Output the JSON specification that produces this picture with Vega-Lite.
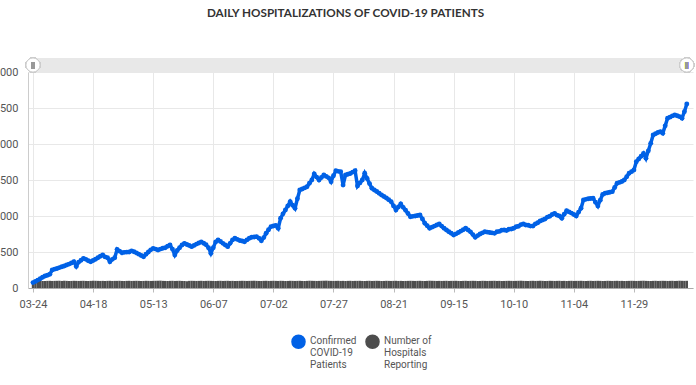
{
  "$schema": "https://vega.github.io/schema/vega-lite/v6.json",
  "width": 665,
  "height": 216,
  "autosize": {"type": "none"},
  "padding": {"left": 28, "top": 72, "right": 3, "bottom": 97},
  "background": "white",
  "title": {"text": "DAILY HOSPITALIZATIONS OF COVID-19 PATIENTS", "font": "Lato", "fontSize": 11.7, "fontWeight": "bold", "color": "#333333", "anchor": "middle", "offset": 36, "dx": -15},
  "config": {"view": {"stroke": null}, "axis": {"labelFont": "Roboto", "labelFontSize": 11, "labelColor": "#555555", "gridColor": "#e8e8e8", "title": null}},
  "resolve": {"axis": {"x": "independent", "y": "independent"}},
  "data": {"values": [
{"date":"2020/03/24","patients":75,"hospitals":99},{"date":"2020/03/25","patients":92,"hospitals":98},{"date":"2020/03/26","patients":110,"hospitals":100},{"date":"2020/03/27","patients":128,"hospitals":99},{"date":"2020/03/28","patients":150,"hospitals":97},{"date":"2020/03/29","patients":167,"hospitals":98},{"date":"2020/03/30","patients":178,"hospitals":99},{"date":"2020/03/31","patients":190,"hospitals":100},
{"date":"2020/04/01","patients":250,"hospitals":98},{"date":"2020/04/02","patients":262,"hospitals":99},{"date":"2020/04/03","patients":270,"hospitals":100},{"date":"2020/04/04","patients":283,"hospitals":99},{"date":"2020/04/05","patients":296,"hospitals":98},{"date":"2020/04/06","patients":305,"hospitals":101},{"date":"2020/04/07","patients":320,"hospitals":99},{"date":"2020/04/08","patients":332,"hospitals":97},{"date":"2020/04/09","patients":348,"hospitals":98},{"date":"2020/04/10","patients":365,"hospitals":100},{"date":"2020/04/11","patients":300,"hospitals":99},{"date":"2020/04/12","patients":360,"hospitals":98},{"date":"2020/04/13","patients":385,"hospitals":99},{"date":"2020/04/14","patients":412,"hospitals":100},{"date":"2020/04/15","patients":398,"hospitals":98},{"date":"2020/04/16","patients":378,"hospitals":97},{"date":"2020/04/17","patients":365,"hospitals":99},{"date":"2020/04/18","patients":382,"hospitals":101},{"date":"2020/04/19","patients":400,"hospitals":100},{"date":"2020/04/20","patients":420,"hospitals":99},{"date":"2020/04/21","patients":441,"hospitals":98},{"date":"2020/04/22","patients":458,"hospitals":99},{"date":"2020/04/23","patients":432,"hospitals":97},{"date":"2020/04/24","patients":420,"hospitals":99},{"date":"2020/04/25","patients":365,"hospitals":100},{"date":"2020/04/26","patients":398,"hospitals":98},{"date":"2020/04/27","patients":420,"hospitals":99},{"date":"2020/04/28","patients":537,"hospitals":99},{"date":"2020/04/29","patients":512,"hospitals":100},{"date":"2020/04/30","patients":490,"hospitals":98},
{"date":"2020/05/01","patients":495,"hospitals":97},{"date":"2020/05/02","patients":498,"hospitals":99},{"date":"2020/05/03","patients":500,"hospitals":100},{"date":"2020/05/04","patients":515,"hospitals":98},{"date":"2020/05/05","patients":504,"hospitals":99},{"date":"2020/05/06","patients":488,"hospitals":100},{"date":"2020/05/07","patients":470,"hospitals":99},{"date":"2020/05/08","patients":452,"hospitals":97},{"date":"2020/05/09","patients":435,"hospitals":98},{"date":"2020/05/10","patients":468,"hospitals":100},{"date":"2020/05/11","patients":500,"hospitals":99},{"date":"2020/05/12","patients":530,"hospitals":98},{"date":"2020/05/13","patients":551,"hospitals":99},{"date":"2020/05/14","patients":540,"hospitals":100},{"date":"2020/05/15","patients":528,"hospitals":101},{"date":"2020/05/16","patients":540,"hospitals":102},{"date":"2020/05/17","patients":552,"hospitals":99},{"date":"2020/05/18","patients":560,"hospitals":98},{"date":"2020/05/19","patients":580,"hospitals":97},{"date":"2020/05/20","patients":597,"hospitals":99},{"date":"2020/05/21","patients":540,"hospitals":100},{"date":"2020/05/22","patients":458,"hospitals":98},{"date":"2020/05/23","patients":520,"hospitals":99},{"date":"2020/05/24","patients":560,"hospitals":100},{"date":"2020/05/25","patients":598,"hospitals":98},{"date":"2020/05/26","patients":620,"hospitals":97},{"date":"2020/05/27","patients":605,"hospitals":94},{"date":"2020/05/28","patients":590,"hospitals":99},{"date":"2020/05/29","patients":574,"hospitals":100},{"date":"2020/05/30","patients":592,"hospitals":99},{"date":"2020/05/31","patients":610,"hospitals":98},
{"date":"2020/06/01","patients":625,"hospitals":99},{"date":"2020/06/02","patients":640,"hospitals":100},{"date":"2020/06/03","patients":622,"hospitals":98},{"date":"2020/06/04","patients":600,"hospitals":99},{"date":"2020/06/05","patients":560,"hospitals":100},{"date":"2020/06/06","patients":482,"hospitals":99},{"date":"2020/06/07","patients":560,"hospitals":98},{"date":"2020/06/08","patients":640,"hospitals":97},{"date":"2020/06/09","patients":667,"hospitals":99},{"date":"2020/06/10","patients":645,"hospitals":100},{"date":"2020/06/11","patients":620,"hospitals":98},{"date":"2020/06/12","patients":598,"hospitals":99},{"date":"2020/06/13","patients":574,"hospitals":100},{"date":"2020/06/14","patients":620,"hospitals":98},{"date":"2020/06/15","patients":668,"hospitals":99},{"date":"2020/06/16","patients":690,"hospitals":97},{"date":"2020/06/17","patients":675,"hospitals":98},{"date":"2020/06/18","patients":660,"hospitals":99},{"date":"2020/06/19","patients":652,"hospitals":100},{"date":"2020/06/20","patients":643,"hospitals":99},{"date":"2020/06/21","patients":668,"hospitals":98},{"date":"2020/06/22","patients":690,"hospitals":99},{"date":"2020/06/23","patients":704,"hospitals":100},{"date":"2020/06/24","patients":708,"hospitals":101},{"date":"2020/06/25","patients":713,"hospitals":99},{"date":"2020/06/26","patients":690,"hospitals":98},{"date":"2020/06/27","patients":657,"hospitals":97},{"date":"2020/06/28","patients":700,"hospitals":99},{"date":"2020/06/29","patients":760,"hospitals":100},{"date":"2020/06/30","patients":810,"hospitals":98},
{"date":"2020/07/01","patients":852,"hospitals":99},{"date":"2020/07/02","patients":862,"hospitals":100},{"date":"2020/07/03","patients":870,"hospitals":99},{"date":"2020/07/04","patients":829,"hospitals":98},{"date":"2020/07/05","patients":968,"hospitals":100},{"date":"2020/07/06","patients":1030,"hospitals":99},{"date":"2020/07/07","patients":1083,"hospitals":97},{"date":"2020/07/08","patients":1140,"hospitals":98},{"date":"2020/07/09","patients":1199,"hospitals":100},{"date":"2020/07/10","patients":1150,"hospitals":99},{"date":"2020/07/11","patients":1107,"hospitals":98},{"date":"2020/07/12","patients":1240,"hospitals":99},{"date":"2020/07/13","patients":1361,"hospitals":100},{"date":"2020/07/14","patients":1375,"hospitals":98},{"date":"2020/07/15","patients":1390,"hospitals":97},{"date":"2020/07/16","patients":1407,"hospitals":99},{"date":"2020/07/17","patients":1455,"hospitals":101},{"date":"2020/07/18","patients":1500,"hospitals":100},{"date":"2020/07/19","patients":1583,"hospitals":99},{"date":"2020/07/20","patients":1540,"hospitals":98},{"date":"2020/07/21","patients":1500,"hospitals":99},{"date":"2020/07/22","patients":1535,"hospitals":100},{"date":"2020/07/23","patients":1569,"hospitals":101},{"date":"2020/07/24","patients":1550,"hospitals":102},{"date":"2020/07/25","patients":1530,"hospitals":100},{"date":"2020/07/26","patients":1476,"hospitals":99},{"date":"2020/07/27","patients":1560,"hospitals":98},{"date":"2020/07/28","patients":1629,"hospitals":99},{"date":"2020/07/29","patients":1620,"hospitals":100},{"date":"2020/07/30","patients":1615,"hospitals":98},{"date":"2020/07/31","patients":1430,"hospitals":99},
{"date":"2020/08/01","patients":1569,"hospitals":97},{"date":"2020/08/02","patients":1580,"hospitals":99},{"date":"2020/08/03","patients":1590,"hospitals":100},{"date":"2020/08/04","patients":1610,"hospitals":98},{"date":"2020/08/05","patients":1629,"hospitals":99},{"date":"2020/08/06","patients":1417,"hospitals":99},{"date":"2020/08/07","patients":1460,"hospitals":100},{"date":"2020/08/08","patients":1500,"hospitals":98},{"date":"2020/08/09","patients":1593,"hospitals":97},{"date":"2020/08/10","patients":1520,"hospitals":99},{"date":"2020/08/11","patients":1450,"hospitals":100},{"date":"2020/08/12","patients":1385,"hospitals":98},{"date":"2020/08/13","patients":1362,"hospitals":99},{"date":"2020/08/14","patients":1340,"hospitals":100},{"date":"2020/08/15","patients":1315,"hospitals":99},{"date":"2020/08/16","patients":1292,"hospitals":97},{"date":"2020/08/17","patients":1270,"hospitals":98},{"date":"2020/08/18","patients":1250,"hospitals":100},{"date":"2020/08/19","patients":1225,"hospitals":99},{"date":"2020/08/20","patients":1199,"hospitals":98},{"date":"2020/08/21","patients":1140,"hospitals":99},{"date":"2020/08/22","patients":1083,"hospitals":100},{"date":"2020/08/23","patients":1125,"hospitals":98},{"date":"2020/08/24","patients":1167,"hospitals":99},{"date":"2020/08/25","patients":1120,"hospitals":97},{"date":"2020/08/26","patients":1080,"hospitals":98},{"date":"2020/08/27","patients":1035,"hospitals":99},{"date":"2020/08/28","patients":990,"hospitals":100},{"date":"2020/08/29","patients":995,"hospitals":99},{"date":"2020/08/30","patients":1000,"hospitals":98},{"date":"2020/08/31","patients":1007,"hospitals":99},
{"date":"2020/09/01","patients":1014,"hospitals":100},{"date":"2020/09/02","patients":960,"hospitals":98},{"date":"2020/09/03","patients":900,"hospitals":97},{"date":"2020/09/04","patients":865,"hospitals":99},{"date":"2020/09/05","patients":829,"hospitals":101},{"date":"2020/09/06","patients":845,"hospitals":100},{"date":"2020/09/07","patients":860,"hospitals":99},{"date":"2020/09/08","patients":875,"hospitals":98},{"date":"2020/09/09","patients":889,"hospitals":99},{"date":"2020/09/10","patients":860,"hospitals":98},{"date":"2020/09/11","patients":830,"hospitals":99},{"date":"2020/09/12","patients":806,"hospitals":100},{"date":"2020/09/13","patients":782,"hospitals":98},{"date":"2020/09/14","patients":760,"hospitals":99},{"date":"2020/09/15","patients":736,"hospitals":99},{"date":"2020/09/16","patients":752,"hospitals":100},{"date":"2020/09/17","patients":770,"hospitals":98},{"date":"2020/09/18","patients":790,"hospitals":97},{"date":"2020/09/19","patients":810,"hospitals":99},{"date":"2020/09/20","patients":829,"hospitals":100},{"date":"2020/09/21","patients":805,"hospitals":98},{"date":"2020/09/22","patients":780,"hospitals":99},{"date":"2020/09/23","patients":742,"hospitals":100},{"date":"2020/09/24","patients":704,"hospitals":99},{"date":"2020/09/25","patients":728,"hospitals":97},{"date":"2020/09/26","patients":750,"hospitals":98},{"date":"2020/09/27","patients":766,"hospitals":100},{"date":"2020/09/28","patients":782,"hospitals":99},{"date":"2020/09/29","patients":776,"hospitals":98},{"date":"2020/09/30","patients":770,"hospitals":99},
{"date":"2020/10/01","patients":765,"hospitals":99},{"date":"2020/10/02","patients":759,"hospitals":100},{"date":"2020/10/03","patients":781,"hospitals":98},{"date":"2020/10/04","patients":786,"hospitals":99},{"date":"2020/10/05","patients":802,"hospitals":97},{"date":"2020/10/06","patients":806,"hospitals":98},{"date":"2020/10/07","patients":799,"hospitals":99},{"date":"2020/10/08","patients":815,"hospitals":100},{"date":"2020/10/09","patients":820,"hospitals":99},{"date":"2020/10/10","patients":829,"hospitals":98},{"date":"2020/10/11","patients":851,"hospitals":99},{"date":"2020/10/12","patients":858,"hospitals":100},{"date":"2020/10/13","patients":880,"hospitals":101},{"date":"2020/10/14","patients":889,"hospitals":99},{"date":"2020/10/15","patients":876,"hospitals":98},{"date":"2020/10/16","patients":872,"hospitals":97},{"date":"2020/10/17","patients":860,"hospitals":99},{"date":"2020/10/18","patients":861,"hospitals":100},{"date":"2020/10/19","patients":890,"hospitals":98},{"date":"2020/10/20","patients":906,"hospitals":99},{"date":"2020/10/21","patients":931,"hospitals":100},{"date":"2020/10/22","patients":944,"hospitals":99},{"date":"2020/10/23","patients":958,"hospitals":97},{"date":"2020/10/24","patients":985,"hospitals":98},{"date":"2020/10/25","patients":996,"hospitals":100},{"date":"2020/10/26","patients":1021,"hospitals":99},{"date":"2020/10/27","patients":1037,"hospitals":98},{"date":"2020/10/28","patients":1012,"hospitals":99},{"date":"2020/10/29","patients":1000,"hospitals":100},{"date":"2020/10/30","patients":968,"hospitals":98},{"date":"2020/10/31","patients":1026,"hospitals":99},
{"date":"2020/11/01","patients":1074,"hospitals":97},{"date":"2020/11/02","patients":1057,"hospitals":99},{"date":"2020/11/03","patients":1040,"hospitals":100},{"date":"2020/11/04","patients":1020,"hospitals":98},{"date":"2020/11/05","patients":1000,"hospitals":99},{"date":"2020/11/06","patients":1054,"hospitals":99},{"date":"2020/11/07","patients":1107,"hospitals":100},{"date":"2020/11/08","patients":1222,"hospitals":98},{"date":"2020/11/09","patients":1231,"hospitals":97},{"date":"2020/11/10","patients":1240,"hospitals":99},{"date":"2020/11/11","patients":1243,"hospitals":100},{"date":"2020/11/12","patients":1246,"hospitals":98},{"date":"2020/11/13","patients":1192,"hospitals":99},{"date":"2020/11/14","patients":1139,"hospitals":100},{"date":"2020/11/15","patients":1220,"hospitals":99},{"date":"2020/11/16","patients":1300,"hospitals":97},{"date":"2020/11/17","patients":1315,"hospitals":98},{"date":"2020/11/18","patients":1322,"hospitals":100},{"date":"2020/11/19","patients":1330,"hospitals":99},{"date":"2020/11/20","patients":1338,"hospitals":98},{"date":"2020/11/21","patients":1396,"hospitals":99},{"date":"2020/11/22","patients":1454,"hospitals":100},{"date":"2020/11/23","patients":1467,"hospitals":98},{"date":"2020/11/24","patients":1480,"hospitals":99},{"date":"2020/11/25","patients":1500,"hospitals":97},{"date":"2020/11/26","patients":1546,"hospitals":98},{"date":"2020/11/27","patients":1593,"hospitals":99},{"date":"2020/11/28","patients":1616,"hospitals":100},{"date":"2020/11/29","patients":1639,"hospitals":99},{"date":"2020/11/30","patients":1754,"hospitals":98},
{"date":"2020/12/01","patients":1792,"hospitals":99},{"date":"2020/12/02","patients":1830,"hospitals":100},{"date":"2020/12/03","patients":1870,"hospitals":101},{"date":"2020/12/04","patients":1801,"hospitals":99},{"date":"2020/12/05","patients":1905,"hospitals":98},{"date":"2020/12/06","patients":2009,"hospitals":97},{"date":"2020/12/07","patients":2125,"hospitals":99},{"date":"2020/12/08","patients":2142,"hospitals":100},{"date":"2020/12/09","patients":2160,"hospitals":98},{"date":"2020/12/10","patients":2171,"hospitals":99},{"date":"2020/12/11","patients":2148,"hospitals":100},{"date":"2020/12/12","patients":2252,"hospitals":99},{"date":"2020/12/13","patients":2357,"hospitals":98},{"date":"2020/12/14","patients":2373,"hospitals":99},{"date":"2020/12/15","patients":2390,"hospitals":100},{"date":"2020/12/16","patients":2403,"hospitals":98},{"date":"2020/12/17","patients":2392,"hospitals":99},{"date":"2020/12/18","patients":2380,"hospitals":101},{"date":"2020/12/19","patients":2357,"hospitals":100},{"date":"2020/12/20","patients":2449,"hospitals":99},{"date":"2020/12/21","patients":2556,"hospitals":100}
  ]},
  "layer": [
    {
      "mark": {"type": "bar", "width": 2.4, "color": "#4d4d4d"},
      "encoding": {
        "x": {"field": "date", "type": "temporal",
          "scale": {"domain": [{"year": 2020, "month": 3, "date": 24}, {"year": 2020, "month": 12, "date": 21, "hours": 12}]},
          "axis": {"format": "%m-%d", "labelPadding": 6, "tickSize": 4, "tickColor": "#bbbbbb", "domainColor": "#aaaaaa", "grid": true,
            "values": [{"year": 2020, "month": 3, "date": 24}, {"year": 2020, "month": 4, "date": 18}, {"year": 2020, "month": 5, "date": 13}, {"year": 2020, "month": 6, "date": 7}, {"year": 2020, "month": 7, "date": 2}, {"year": 2020, "month": 7, "date": 27}, {"year": 2020, "month": 8, "date": 21}, {"year": 2020, "month": 9, "date": 15}, {"year": 2020, "month": 10, "date": 10}, {"year": 2020, "month": 11, "date": 4}, {"year": 2020, "month": 11, "date": 29}]}},
        "y": {"field": "hospitals", "type": "quantitative", "scale": {"domain": [0, 3000], "nice": false},
          "axis": {"values": [0, 500, 1000, 1500, 2000, 2500, 3000], "labelOverlap": false, "ticks": false, "labelPadding": 10, "domainColor": "#cccccc", "grid": true}},
        "color": {"datum": "Number of Hospitals Reporting", "type": "nominal",
          "scale": {"domain": ["Confirmed COVID-19 Patients", "Number of Hospitals Reporting"], "range": ["#0061E6", "#4d4d4d"]},
          "legend": {"orient": "none", "legendX": 263, "legendY": 262, "direction": "horizontal", "title": null, "symbolType": "circle", "symbolSize": 170,
            "labelFont": "Roboto", "labelFontSize": 10, "labelColor": "#555555", "labelBaseline": "top", "columnPadding": 5, "labelLimit": 200,
            "labelExpr": "datum.label == 'Confirmed COVID-19 Patients' ? ['Confirmed', 'COVID-19', 'Patients'] : ['Number of', 'Hospitals', 'Reporting']",
            "encode": {"symbols": {"update": {"fill": {"scale": "color", "field": "value"}, "stroke": {"value": "transparent"}, "opacity": {"value": 1}, "fillOpacity": {"value": 1}}},
                       "labels": {"update": {"dy": {"value": -6}}}}}}
      }
    },
    {
      "mark": {"type": "line", "strokeWidth": 3.5, "point": {"filled": true, "size": 24}},
      "encoding": {
        "x": {"field": "date", "type": "temporal", "axis": null},
        "y": {"field": "patients", "type": "quantitative", "axis": null},
        "color": {"datum": "Confirmed COVID-19 Patients", "type": "nominal"}
      }
    },
    {
      "mark": {"type": "rect", "color": "#e8e8e8"},
      "encoding": {
        "x": {"datum": {"year": 2020, "month": 3, "date": 24}, "type": "temporal", "axis": null},
        "x2": {"datum": {"year": 2020, "month": 12, "date": 21, "hours": 12}},
        "y": {"datum": 3000, "type": "quantitative", "axis": null},
        "y2": {"datum": 3195}
      }
    },
    {
      "mark": {"type": "point", "shape": "circle", "filled": true, "size": 200, "fill": "white", "stroke": "#cccccc", "strokeWidth": 1, "opacity": 1},
      "encoding": {
        "x": {"datum": {"year": 2020, "month": 3, "date": 24}, "type": "temporal", "axis": null},
        "y": {"datum": 3097, "type": "quantitative", "axis": null}
      }
    },
    {
      "mark": {"type": "point", "shape": "circle", "filled": true, "size": 200, "fill": "white", "stroke": "#cccccc", "strokeWidth": 1, "opacity": 1},
      "encoding": {
        "x": {"datum": {"year": 2020, "month": 12, "date": 21}, "type": "temporal", "axis": null},
        "y": {"datum": 3097, "type": "quantitative", "axis": null}
      }
    },
    {
      "mark": {"type": "text", "text": "||", "fontSize": 8, "color": "#999999", "font": "Roboto"},
      "encoding": {
        "x": {"datum": {"year": 2020, "month": 3, "date": 24}, "type": "temporal", "axis": null},
        "y": {"datum": 3097, "type": "quantitative", "axis": null}
      }
    },
    {
      "mark": {"type": "text", "text": "||", "fontSize": 8, "color": "#999999", "font": "Roboto"},
      "encoding": {
        "x": {"datum": {"year": 2020, "month": 12, "date": 21}, "type": "temporal", "axis": null},
        "y": {"datum": 3097, "type": "quantitative", "axis": null}
      }
    }
  ]
}
